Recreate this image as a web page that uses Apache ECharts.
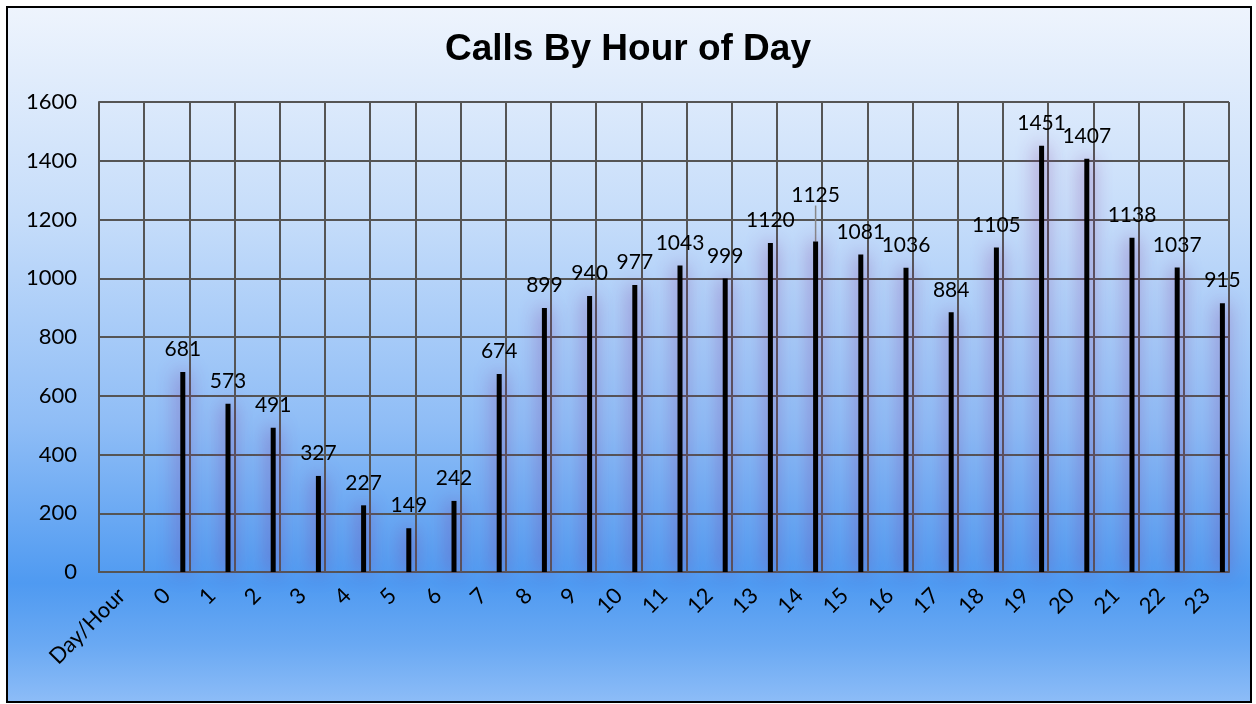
<!DOCTYPE html>
<html>
<head>
<meta charset="utf-8">
<script src="https://cdn.jsdelivr.net/npm/echarts@6/dist/echarts.min.js"></script>
<style>
  html, body { margin:0; padding:0; background:#ffffff; }
  #bg { position:absolute; left:6px; top:6px; width:1242px; height:693px; border:2px solid #000;
        background: linear-gradient(to bottom, #eef4fd 0%, #c6ddfa 30%, #8fbdf6 60%, #4f9af1 83%, #6aa9f3 92%, #8cbcf7 100%); }
  #chart { position:absolute; left:0; top:0; width:1256px; height:704px; }
</style>
</head>
<body>
<div id="bg"></div>
<div id="chart"></div>
<script>
const categories = ['Day/Hour','0','1','2','3','4','5','6','7','8','9','10','11','12','13','14','15','16','17','18','19','20','21','22','23'];
const calls = ['-',681,573,491,327,227,149,242,674,899,940,977,1043,999,1120,1125,1081,1036,884,1105,1451,1407,1138,1037,915];
const yTicks = { min: 0, max: 1600, interval: 200 };
const titleText = 'Calls By Hour of Day';
const movedLabelIndex = 15;

const FONT = 'Lato';
const barData = calls.map((v, i) => i === movedLabelIndex ? { value: v, labelLine: { show: true } } : v);
const chart = echarts.init(document.getElementById('chart'), null, { renderer: 'canvas' });
chart.setOption({
  backgroundColor: 'transparent',
  animation: false,
  title: {
    text: titleText, left: 'center', top: 26,
    textStyle: { fontFamily: 'Liberation Sans', fontWeight: 'bold', fontSize: 37, color: '#000' }
  },
  grid: { left: 99, right: 27, top: 102, bottom: 132 },
  xAxis: {
    type: 'category', data: categories, boundaryGap: true,
    axisLine: { show: true, lineStyle: { color: '#555', width: 2 } },
    axisTick: { show: false },
    splitLine: { show: true, lineStyle: { color: '#555', width: 2 } },
    axisLabel: { interval: 0, rotate: 45, margin: 20, fontFamily: FONT, fontSize: 22, color: '#000' }
  },
  yAxis: {
    type: 'value', min: yTicks.min, max: yTicks.max, interval: yTicks.interval,
    axisLine: { show: true, lineStyle: { color: '#555', width: 2 } },
    axisTick: { show: false },
    splitLine: { show: true, lineStyle: { color: '#555', width: 2 } },
    axisLabel: { margin: 22, fontFamily: FONT, fontSize: 22, color: '#000', formatter: v => String(v) }
  },
  series: [
    { type: 'bar', data: categories.map(() => '-'), barWidth: 5, barGap: '540%', silent: true },
    {
      type: 'bar', data: barData, barWidth: 5, barGap: '540%',
      itemStyle: { color: '#000', shadowBlur: 20, shadowColor: 'rgba(125,50,150,1)' },
      label: { show: true, position: 'top', distance: 12, fontFamily: FONT, fontSize: 21, color: '#000' },
      labelLine: { show: false, lineStyle: { color: '#888', width: 1.5 } },
      labelLayout: function (p) { return p.dataIndex === movedLabelIndex ? { dy: -24 } : {}; }
    }
  ]
});
</script>
</body>
</html>
